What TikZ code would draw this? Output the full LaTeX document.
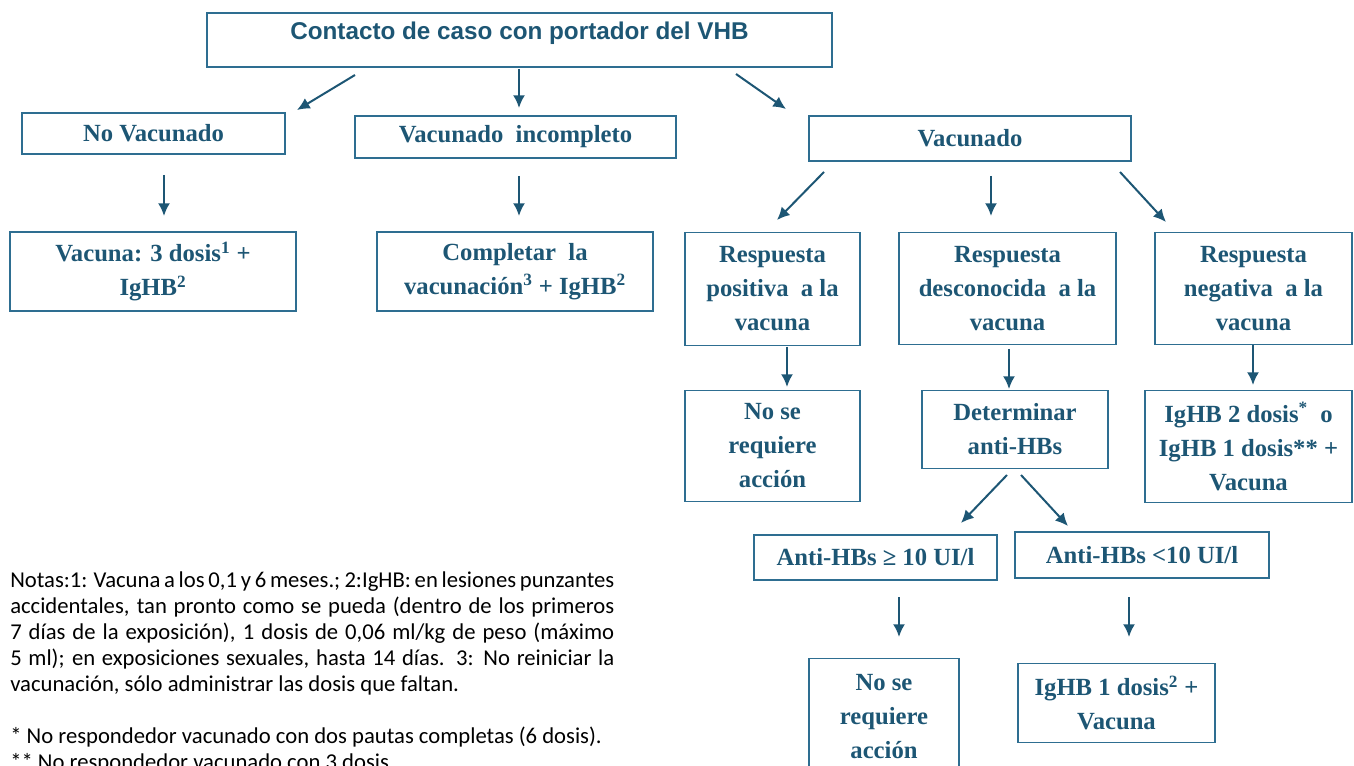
\documentclass[tikz,border=0pt]{standalone}
\usepackage{fontspec}
\setmainfont{Liberation Serif}
\newfontfamily\titlefont{Liberation Sans}
\newfontfamily\notefont{Carlito}
\usetikzlibrary{arrows.meta}
\definecolor{txtc}{RGB}{29,86,116}
\definecolor{boxc}{RGB}{46,110,145}
\definecolor{arrc}{RGB}{29,86,116}
\tikzset{
  box/.style={draw=boxc, line width=1.1pt, text=txtc, align=center, inner sep=0pt,
    font=\bfseries\fontsize{18.5}{25.5}\selectfont},
  arr/.style={draw=arrc, line width=1.5pt, -{Latex[length=9.5pt,width=9pt]}},
}
\begin{document}
\begin{tikzpicture}[x=0.75pt,y=-0.75pt]
\useasboundingbox (0,0) rectangle (1354,766);
\clip (0,0) rectangle (1354,766);
% nodes
\node[box, minimum width=625*0.75pt, minimum height=54*0.75pt] (top) at (519.5,40) {};
\node[text=txtc, inner sep=0pt, font=\titlefont\bfseries\fontsize{18.2}{22}\selectfont] (toptxt) at (519.5,33) {Contacto de caso con portador del VHB};
\node[box, minimum width=263*0.75pt, minimum height=41*0.75pt] (nov) at (153.5,133.5) {No Vacunado};
\node[box, minimum width=321*0.75pt, minimum height=42*0.75pt] (vinc) at (515.5,137) {Vacunado\ \ incompleto};
\node[box, minimum width=322*0.75pt, minimum height=45*0.75pt] (vac) at (970,138.5) {Vacunado};
\node[box, minimum width=286*0.75pt, minimum height=79*0.75pt] (vac3) at (153,271.5) {Vacuna: 3 dosis\textsuperscript{1} +\\IgHB\textsuperscript{2}};
\node[box, minimum width=276*0.75pt, minimum height=79*0.75pt] (compl) at (515,271.5) {Completar\ \ la\\vacunación\textsuperscript{3} + IgHB\textsuperscript{2}};
\node[box, minimum width=175*0.75pt, minimum height=113*0.75pt] (rpos) at (772.5,289) {Respuesta\\positiva\ \ a la\\vacuna};
\node[box, minimum width=217*0.75pt, minimum height=112*0.75pt] (rdesc) at (1007.5,288.5) {Respuesta\\desconocida\ \ a la\\vacuna};
\node[box, minimum width=197*0.75pt, minimum height=112*0.75pt] (rneg) at (1253.5,288.5) {Respuesta\\negativa\ \ a la\\vacuna};
\node[box, minimum width=175*0.75pt, minimum height=111*0.75pt] (nsr1) at (772.5,446) {No se\\requiere\\acción};
\node[box, minimum width=186*0.75pt, minimum height=78*0.75pt] (det) at (1015,429.5) {Determinar\\anti-HBs};
\node[box, minimum width=207*0.75pt, minimum height=112*0.75pt] (igb2) at (1248.5,446.5) {IgHB 2 dosis\textsuperscript{*}\ \ o\\IgHB 1 dosis** +\\Vacuna};
\node[box, minimum width=243*0.75pt, minimum height=45*0.75pt] (ge) at (875.5,557.5) {Anti-HBs ≥ 10 UI/l};
\node[box, minimum width=254*0.75pt, minimum height=46*0.75pt] (lt) at (1142,555) {Anti-HBs <10 UI/l};
\node[box, minimum width=150*0.75pt, minimum height=116*0.75pt] (nsr2) at (884,716.5) {No se\\requiere\\acción};
\node[box, minimum width=197*0.75pt, minimum height=79*0.75pt] (igb1) at (1116.5,703) {IgHB 1 dosis\textsuperscript{2} +\\Vacuna};
% notes
\node[anchor=north west, inner sep=0pt, align=left, text=black,
  font=\notefont\fontsize{17}{19.5}\selectfont] (notes) at (10,571) {%
\makebox[453pt][s]{Notas:1: Vacuna a los 0,1 y 6 meses.; 2:IgHB: en lesiones punzantes}\\
\makebox[453pt][s]{accidentales, tan pronto como se pueda (dentro de los primeros}\\
\makebox[453pt][s]{7 días de la exposición), 1 dosis de 0,06 ml/kg de peso (máximo}\\
\makebox[453pt][s]{5 ml); en exposiciones sexuales, hasta 14 días. 3: No reiniciar la}\\
vacunación, sólo administrar las dosis que faltan.\\[19.5pt]
* No respondedor vacunado con dos pautas completas (6 dosis).\\
** No respondedor vacunado con 3 dosis.};
% arrow endpoints
\coordinate (a1s) at (355,75);   \coordinate (a1e) at (297,110);
\coordinate (a2s) at (519,69);   \coordinate (a2e) at (519,108);
\coordinate (a3s) at (736,74);   \coordinate (a3e) at (786,109);
\coordinate (a4s) at (164,175);  \coordinate (a4e) at (164,216);
\coordinate (a5s) at (519,176);  \coordinate (a5e) at (519,216);
\coordinate (a6s) at (824,172);  \coordinate (a6e) at (777,220);
\coordinate (a7s) at (991,176);  \coordinate (a7e) at (991,216);
\coordinate (a8s) at (1120,172); \coordinate (a8e) at (1166,222);
\coordinate (a9s) at (787,347);  \coordinate (a9e) at (787,387);
\coordinate (a10s) at (1009,349); \coordinate (a10e) at (1009,389);
\coordinate (a11s) at (1253,345); \coordinate (a11e) at (1253,385);
\coordinate (a12s) at (1007,475); \coordinate (a12e) at (961,523);
\coordinate (a13s) at (1021,475); \coordinate (a13e) at (1068,526);
\coordinate (a14s) at (899,597);  \coordinate (a14e) at (899,637);
\coordinate (a15s) at (1129,597); \coordinate (a15e) at (1129,637);
\foreach \i in {1,...,15} { \draw[arr] (a\i s) -- (a\i e); }
\end{tikzpicture}
\end{document}
